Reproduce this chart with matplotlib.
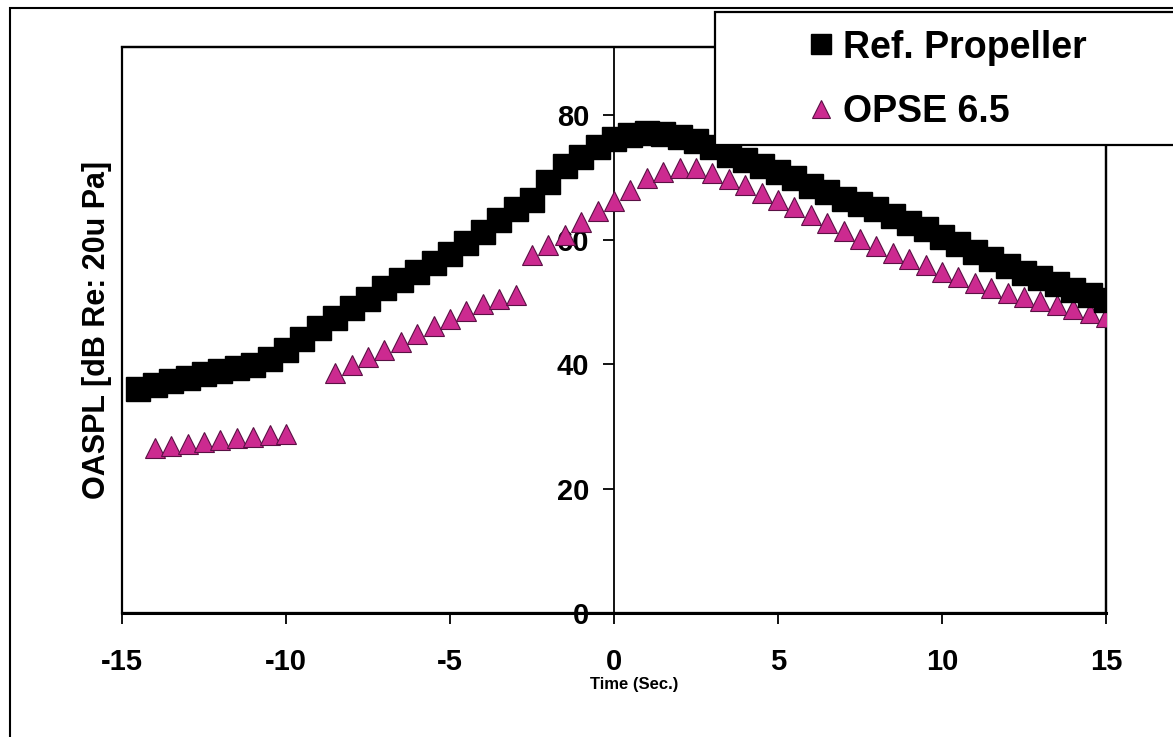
import numpy as np
import matplotlib
matplotlib.use("Agg")
import matplotlib.pyplot as plt
from matplotlib.patches import Rectangle

plt.rcParams['font.family'] = ['Liberation Sans', 'DejaVu Sans']
plt.rcParams['axes.unicode_minus'] = False

# ---- data ----
time_s = [-14.5, -14.0, -13.5, -13.0, -12.5, -12.0, -11.5, -11.0, -10.5, -10.0,
          -9.5, -9.0, -8.5, -8.0, -7.5, -7.0, -6.5, -6.0, -5.5, -5.0,
          -4.5, -4.0, -3.5, -3.0, -2.5, -2.0, -1.5, -1.0, -0.5, 0.0,
          0.5, 1.0, 1.5, 2.0, 2.5, 3.0, 3.5, 4.0, 4.5, 5.0,
          5.5, 6.0, 6.5, 7.0, 7.5, 8.0, 8.5, 9.0, 9.5, 10.0,
          10.5, 11.0, 11.5, 12.0, 12.5, 13.0, 13.5, 14.0, 14.5, 15.0]

ref_propeller = [36.0, 36.7, 37.3, 37.8, 38.4, 38.9, 39.4, 39.9, 40.8, 42.3,
                 44.1, 45.8, 47.4, 49.0, 50.5, 52.3, 53.5, 54.8, 56.3, 57.7,
                 59.5, 61.3, 63.2, 65.0, 66.4, 69.3, 71.9, 73.3, 74.9, 76.2,
                 76.8, 77.2, 77.0, 76.5, 75.9, 74.9, 73.6, 72.8, 71.9, 70.9,
                 69.9, 68.6, 67.7, 66.6, 65.8, 65.0, 63.8, 62.7, 61.7, 60.5,
                 59.3, 58.0, 56.9, 55.8, 54.7, 53.9, 52.9, 51.9, 51.1, 50.3]

nan = float('nan')
opse_65 = [nan, 26.6, 26.9, 27.2, 27.5, 27.8, 28.1, 28.3, 28.6, 28.8,
           nan, nan, 38.6, 39.9, 41.1, 42.3, 43.5, 44.8, 46.1, 47.3,
           48.5, 49.6, 50.5, 51.2, 57.5, 59.2, 60.8, 62.9, 64.6, 66.2,
           68.0, 69.9, 70.9, 71.5, 71.5, 70.8, 69.8, 68.8, 67.6, 66.4,
           65.2, 64.0, 62.7, 61.4, 60.2, 59.0, 57.9, 56.9, 55.9, 54.9,
           54.0, 53.1, 52.3, 51.5, 50.8, 50.1, 49.5, 48.9, 48.2, 47.6]

series_labels = ['Ref. Propeller', 'OPSE 6.5']
x_ticks = [-15, -10, -5, 0, 5, 10, 15]
y_ticks = [0, 20, 40, 60, 80]

# ---- figure ----
W, H = 1173, 737
fig = plt.figure(figsize=(W / 100, H / 100), dpi=100)
fig.patch.set_facecolor('white')

def fx(px):
    return px / W

def fy(py):
    return 1 - py / H

ax = fig.add_axes([fx(122), fy(613), fx(1106) - fx(122), fy(47) - fy(613)])
ax.set_xlim(-15, 15)
ax.set_ylim(0, 91)

magenta = '#cc2a90'
l_opse, = ax.plot(time_s, opse_65, linestyle='none', marker='^', markersize=15,
                  markerfacecolor=magenta, markeredgecolor='#5a1044',
                  markeredgewidth=0.8, zorder=3, label=series_labels[1])
l_ref, = ax.plot(time_s, ref_propeller, linestyle='none', marker='s', markersize=17,
                 markerfacecolor='black', markeredgecolor='black', zorder=4,
                 label=series_labels[0])

# axes styling: y-axis crossing at x = 0, plot area framed
for s in ['top', 'right']:
    ax.spines[s].set_linewidth(1.6)
ax.spines['left'].set_position(('data', 0))
ax.spines['left'].set_linewidth(1.3)
ax.spines['bottom'].set_linewidth(2.2)
ax.add_patch(Rectangle((0, 0), 1, 1, transform=ax.transAxes, fill=False,
                       edgecolor='black', linewidth=1.6, zorder=1, clip_on=False))

ax.set_xticks(x_ticks)
ax.set_yticks(y_ticks)
ax.tick_params(axis='x', direction='out', length=8, width=1.3, pad=17,
               labelsize=21)
ax.tick_params(axis='y', direction='out', length=8, width=1.3, pad=10,
               labelsize=21)
for lab in ax.get_xticklabels() + ax.get_yticklabels():
    lab.set_fontweight('bold')

# axis titles
fig.text(fx(634), fy(684), 'Time (Sec.)', ha='center', va='center',
         fontsize=12, fontweight='bold')
fig.text(fx(97), fy(330), 'OASPL [dB Re: 20u Pa]', ha='center', va='center',
         rotation=90, fontsize=22, fontweight='bold')

# outer chart border
fig.patches.append(Rectangle((fx(10), -0.05), 1.2, fy(8) + 0.05,
                             transform=fig.transFigure, fill=False,
                             edgecolor='black', linewidth=1.5, zorder=0))

# legend box
fig.patches.append(Rectangle((fx(715), fy(145)), 1.0, fy(12) - fy(145),
                             transform=fig.transFigure, facecolor='white',
                             edgecolor='black', linewidth=1.6, zorder=5))
leg = fig.legend(handles=[l_ref, l_opse], labels=series_labels,
                 loc='upper left', bbox_to_anchor=(fx(800), fy(22)),
                 frameon=False, prop={'weight': 'bold', 'size': 27},
                 handlelength=0.7, handletextpad=0.25, labelspacing=0.75,
                 borderaxespad=0, borderpad=0.2, markerscale=0.85)
leg.set_zorder(6)
for t in leg.get_texts():
    t.set_color('black')

fig.savefig('out.png', dpi=100, facecolor='white')
